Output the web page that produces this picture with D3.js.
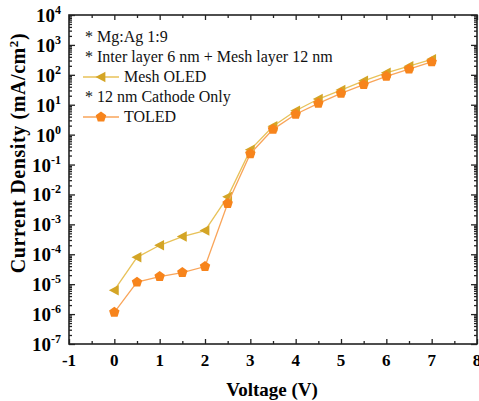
<!DOCTYPE html>
<html>
<head>
<meta charset="utf-8">
<script src="https://cdn.jsdelivr.net/npm/d3@7"></script>
<style>
  body { margin: 0; background: #fff; }
  text { font-family: "Liberation Serif", "Times New Roman", serif; }
</style>
</head>
<body>
<div class="chart"></div>
<script>
// voltage steps (V)
var voltage = [0, 0.5, 1, 1.5, 2, 2.5, 3, 3.5, 4, 4.5, 5, 5.5, 6, 6.5, 7];
// current density (mA/cm2)
var meshOLED = [6.3e-6, 7.9e-5, 2.0e-4, 3.9e-4, 6.2e-4, 8.3e-3, 0.31, 1.9, 6.3, 15.5, 31, 63, 117, 195, 330];
var toled = [1.15e-6, 1.17e-5, 1.8e-5, 2.45e-5, 3.9e-5, 5.0e-3, 0.23, 1.5, 4.8, 11.1, 24, 47, 89, 155, 270];
var xTicks = [-1, 0, 1, 2, 3, 4, 5, 6, 7, 8];
var yExponents = [-7, -6, -5, -4, -3, -2, -1, 0, 1, 2, 3, 4];
var noteLines = ["* Mg:Ag 1:9", "* Inter layer 6 nm + Mesh layer 12 nm", "Mesh OLED", "* 12 nm Cathode Only", "TOLED"];

var svgWidth = 479, svgHeight = 401;
var margin = {top: 15, right: 2, bottom: 57, left: 69};
var width = svgWidth - margin.left - margin.right;
var height = svgHeight - margin.top - margin.bottom;

var meshColor = "#d4a526", meshLine = "#e8c259";
var toledColor = "#f7841c", toledLine = "#f9a55a";

var svg = d3.select(".chart").append("svg")
    .attr("width", svgWidth)
    .attr("height", svgHeight);

var chartGroup = svg.append("g")
    .attr("transform", `translate(${margin.left}, ${margin.top})`);

var x = d3.scaleLinear().domain([-1, 8]).range([0, width]);
var y = d3.scaleLog().domain([1e-7, 1e4]).range([height, 0]);

// minor ticks
var yMinor = [];
yExponents.slice(0, -1).forEach(function(e) {
    for (var k = 2; k <= 9; k++) yMinor.push(k * Math.pow(10, e));
});
var xMinor = d3.range(-0.5, 8, 1);

function tickGroup(g) {
    g.selectAll("text").remove();
    g.select(".domain").remove();
    g.selectAll("line").attr("stroke", "#222").attr("stroke-width", 1.3);
}

// bottom / top major + minor
chartGroup.append("g").attr("transform", `translate(0,${height})`)
    .call(d3.axisBottom(x).tickValues(xTicks).tickSizeInner(-5).tickSizeOuter(0)).call(tickGroup);
chartGroup.append("g").attr("transform", `translate(0,${height})`)
    .call(d3.axisBottom(x).tickValues(xMinor).tickSizeInner(-3).tickSizeOuter(0)).call(tickGroup);
chartGroup.append("g")
    .call(d3.axisTop(x).tickValues(xTicks).tickSizeInner(-5).tickSizeOuter(0)).call(tickGroup);
chartGroup.append("g")
    .call(d3.axisTop(x).tickValues(xMinor).tickSizeInner(-3).tickSizeOuter(0)).call(tickGroup);

// left / right major + minor
var yMajor = yExponents.map(e => Math.pow(10, e));
chartGroup.append("g")
    .call(d3.axisLeft(y).tickValues(yMajor).tickSizeInner(-6).tickSizeOuter(0)).call(tickGroup);
chartGroup.append("g")
    .call(d3.axisLeft(y).tickValues(yMinor).tickSizeInner(-3).tickSizeOuter(0)).call(tickGroup);
chartGroup.append("g").attr("transform", `translate(${width},0)`)
    .call(d3.axisRight(y).tickValues(yMajor).tickSizeInner(-6).tickSizeOuter(0)).call(tickGroup);
chartGroup.append("g").attr("transform", `translate(${width},0)`)
    .call(d3.axisRight(y).tickValues(yMinor).tickSizeInner(-3).tickSizeOuter(0)).call(tickGroup);

// frame
chartGroup.append("rect")
    .attr("width", width).attr("height", height)
    .attr("fill", "none").attr("stroke", "#222").attr("stroke-width", 1.6);

// tick labels
chartGroup.selectAll(".xlabel").data(xTicks).enter().append("text")
    .attr("x", d => x(d)).attr("y", height + 22)
    .attr("text-anchor", "middle")
    .attr("font-size", 17).attr("font-weight", "bold")
    .text(d => d);

var yLab = chartGroup.selectAll(".ylabel").data(yExponents).enter().append("text")
    .attr("x", -8).attr("y", d => y(Math.pow(10, d)) + 7)
    .attr("text-anchor", "end")
    .attr("font-size", 19).attr("font-weight", "bold");
yLab.append("tspan").text("10");
yLab.append("tspan").attr("dy", -8).attr("font-size", 12).text(d => d);

// axis titles
svg.append("text")
    .attr("x", 272).attr("y", 396)
    .attr("text-anchor", "middle")
    .attr("font-size", 19).attr("font-weight", "bold")
    .text("Voltage (V)");

var yTitle = svg.append("text")
    .attr("transform", "translate(25,153) rotate(-90)")
    .attr("text-anchor", "middle")
    .attr("font-size", 20).attr("font-weight", "bold")
    .attr("letter-spacing", 0.6);
yTitle.append("tspan").text("Current Density (mA/cm");
yTitle.append("tspan").attr("dy", -7).attr("font-size", 13).text("2");
yTitle.append("tspan").attr("dy", 7).text(")");

// markers
function triLeft(s) {
    return `M${-s},0L${s * 0.8},${-s * 0.95}L${s * 0.8},${s * 0.95}Z`;
}
function pentagon(r) {
    var pts = d3.range(5).map(function(i) {
        var a = -Math.PI / 2 + i * 2 * Math.PI / 5;
        return [r * Math.cos(a), r * Math.sin(a)];
    });
    return "M" + pts.join("L") + "Z";
}

var line = d3.line().x(d => x(d[0])).y(d => y(d[1]));

var series = [
    {name: "Mesh OLED", values: meshOLED, line: meshLine, color: meshColor, shape: triLeft(5.5)},
    {name: "TOLED", values: toled, line: toledLine, color: toledColor, shape: pentagon(5.5)}
];

series.forEach(function(s) {
    var pts = voltage.map((v, i) => [v, s.values[i]]);
    chartGroup.append("path")
        .attr("d", line(pts))
        .attr("fill", "none").attr("stroke", s.line).attr("stroke-width", 1.3);
    chartGroup.selectAll(null).data(pts).enter().append("path")
        .attr("transform", d => `translate(${x(d[0])},${y(d[1])})`)
        .attr("d", s.shape)
        .attr("fill", s.color);
});

// legend / notes
var noteY = [37, 57, 77, 97, 117];
noteLines.forEach(function(t, i) {
    var isSeries = (i === 2 || i === 4);
    svg.append("text")
        .attr("x", isSeries ? 124 : 85).attr("y", noteY[i] + 5)
        .attr("font-size", 16)
        .attr("fill", "#111")
        .text(t);
});
[[series[0], noteY[2]], [series[1], noteY[4]]].forEach(function(d) {
    svg.append("line")
        .attr("x1", 83).attr("x2", 119).attr("y1", d[1]).attr("y2", d[1])
        .attr("stroke", d[0].line).attr("stroke-width", 1.3);
    svg.append("path")
        .attr("transform", `translate(101,${d[1]})`)
        .attr("d", d[0].shape)
        .attr("fill", d[0].color);
});
</script>
</body>
</html>
